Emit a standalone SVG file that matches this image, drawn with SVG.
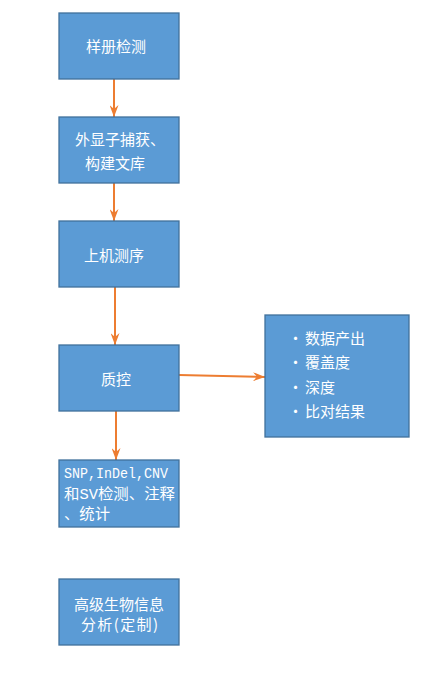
<svg xmlns="http://www.w3.org/2000/svg" width="429" height="675" viewBox="0 0 429 675">
<style>
.box{fill:#5B9BD5;stroke:#41719C;stroke-width:1.3}
.t{fill:#fff;font-family:"Noto Sans CJK SC","Noto Sans",sans-serif;font-size:15px}
.c{text-anchor:middle}
.m{fill:#fff;font-family:"Liberation Mono","Noto Sans CJK SC",monospace;font-size:15px}
.ln{stroke:#ED7D31;stroke-width:2;fill:none}
</style>
<defs>
<marker id="ah" viewBox="0 0 12 9" refX="12" refY="4.5" markerWidth="6" markerHeight="4.5" markerUnits="strokeWidth" orient="auto">
<path d="M0,0 L12,4.5 L0,9 L4,4.5 Z" fill="#ED7D31"/>
</marker>
</defs>
<rect width="429" height="675" fill="#fff"/>
<g id="connectors">
<line class="ln" x1="114" y1="79" x2="114" y2="117" marker-end="url(#ah)"/>
<line class="ln" x1="114" y1="183" x2="114" y2="221" marker-end="url(#ah)"/>
<line class="ln" x1="115" y1="287" x2="115" y2="345" marker-end="url(#ah)"/>
<line class="ln" x1="116" y1="411" x2="116" y2="460" marker-end="url(#ah)"/>
<line class="ln" x1="179" y1="375" x2="265" y2="377" marker-end="url(#ah)"/>
</g>
<g id="n1"><rect class="box" x="59" y="13" width="120" height="66"/><text class="t c" x="116" y="52">样册检测</text></g>
<g id="n2"><rect class="box" x="59" y="117" width="120" height="66"/><text class="t c" x="120" y="145">外显子捕获、</text><text class="t c" x="115" y="169">构建文库</text></g>
<g id="n3"><rect class="box" x="59" y="221" width="120" height="66"/><text class="t c" x="114" y="261">上机测序</text></g>
<g id="n4"><rect class="box" x="59" y="345" width="120" height="66"/><text class="t c" x="116" y="385">质控</text></g>
<g id="n5"><rect class="box" x="59" y="460" width="120" height="67"/>
<text class="m" x="64" y="478" textLength="104" lengthAdjust="spacingAndGlyphs">SNP,InDel,CNV</text>
<text class="m" x="64" y="499" textLength="111" lengthAdjust="spacingAndGlyphs">和SV检测、注释</text>
<text class="m" x="64" y="519" textLength="46" lengthAdjust="spacingAndGlyphs">、统计</text></g>
<g id="n6"><rect class="box" x="59" y="579" width="120" height="66"/><text class="t c" x="119" y="610">高级生物信息</text><text class="t" x="81" y="630" textLength="77" lengthAdjust="spacing">分析(定制)</text></g>
<g id="n7"><rect class="box" x="265" y="315" width="144" height="122"/>
<text class="t" x="288" y="344">·<tspan dx="2">数据产出</tspan></text>
<text class="t" x="288" y="368">·<tspan dx="2">覆盖度</tspan></text>
<text class="t" x="288" y="393">·<tspan dx="2">深度</tspan></text>
<text class="t" x="288" y="417">·<tspan dx="2">比对结果</tspan></text>
</g>
</svg>
